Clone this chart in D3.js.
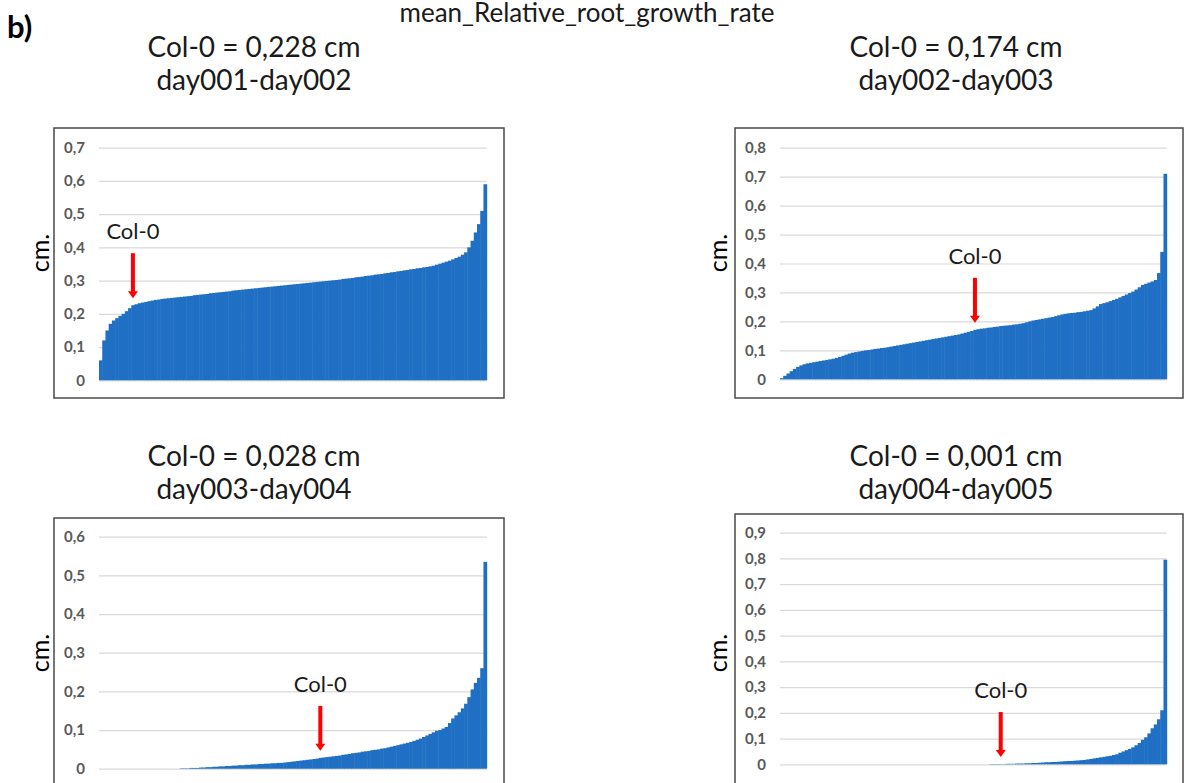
<!DOCTYPE html>
<html>
<head>
<meta charset="utf-8">
<script src="https://cdn.jsdelivr.net/npm/d3@7"></script>
<style>
  html, body { margin: 0; padding: 0; background: #ffffff; }
  svg { display: block; }
</style>
</head>
<body>
<svg id="chart" width="1187" height="783"></svg>
<script>
// ---------------- DATA ----------------
const mainTitle = "mean_Relative_root_growth_rate";
const panelLetter = "b)";
const col0Titles = ["Col-0 = 0,228 cm", "Col-0 = 0,174 cm", "Col-0 = 0,028 cm", "Col-0 = 0,001 cm"];
const periods = ["day001-day002", "day002-day003", "day003-day004", "day004-day005"];
const yAxisLabel = "cm.";
const markerLabel = "Col-0";
const yMaxValues = [0.7, 0.8, 0.6, 0.9];
const col0Index = [10, 60, 68, 68];

// sorted mean relative root growth per accession (cm), day001-day002
const growthDay1to2 = [
  0.06, 0.12, 0.15, 0.17, 0.18, 0.187, 0.194, 0.2, 0.208, 0.217,
  0.226, 0.229, 0.232, 0.234, 0.236, 0.238, 0.24, 0.242, 0.243, 0.245,
  0.246, 0.247, 0.248, 0.249, 0.25, 0.251, 0.252, 0.253, 0.254, 0.256,
  0.257, 0.258, 0.259, 0.26, 0.262, 0.263, 0.264, 0.265, 0.266, 0.267,
  0.268, 0.27, 0.271, 0.272, 0.273, 0.274, 0.275, 0.276, 0.277, 0.278,
  0.279, 0.28, 0.281, 0.282, 0.283, 0.284, 0.285, 0.286, 0.287, 0.288,
  0.289, 0.29, 0.291, 0.292, 0.293, 0.294, 0.295, 0.296, 0.297, 0.298,
  0.299, 0.3, 0.301, 0.302, 0.303, 0.305, 0.306, 0.307, 0.308, 0.31,
  0.311, 0.312, 0.314, 0.315, 0.316, 0.318, 0.319, 0.32, 0.322, 0.323,
  0.325, 0.326, 0.328, 0.329, 0.331, 0.332, 0.334, 0.335, 0.337, 0.338,
  0.34, 0.341, 0.343, 0.345, 0.348, 0.351, 0.354, 0.357, 0.36, 0.364,
  0.368, 0.372, 0.378, 0.385, 0.4, 0.42, 0.445, 0.47, 0.51, 0.59
];
// day002-day003
const growthDay2to3 = [
  0.004, 0.012, 0.02, 0.028, 0.036, 0.043, 0.048, 0.052, 0.055, 0.057,
  0.059, 0.061, 0.063, 0.065, 0.067, 0.069, 0.071, 0.074, 0.077, 0.081,
  0.085, 0.089, 0.092, 0.094, 0.096, 0.098, 0.1, 0.101, 0.103, 0.105,
  0.106, 0.108, 0.109, 0.111, 0.113, 0.115, 0.117, 0.119, 0.121, 0.123,
  0.125, 0.127, 0.129, 0.131, 0.133, 0.135, 0.137, 0.139, 0.141, 0.143,
  0.145, 0.147, 0.149, 0.151, 0.153, 0.155, 0.158, 0.161, 0.164, 0.167,
  0.171, 0.173, 0.175, 0.176, 0.178, 0.179, 0.181, 0.182, 0.184, 0.185,
  0.186, 0.187, 0.189, 0.19, 0.192, 0.194, 0.197, 0.2, 0.203, 0.205,
  0.207, 0.209, 0.211, 0.213, 0.215, 0.218, 0.221, 0.224, 0.226, 0.228,
  0.229, 0.23, 0.232, 0.233, 0.235, 0.237, 0.239, 0.245, 0.252, 0.26,
  0.263, 0.266, 0.27, 0.274, 0.278, 0.283, 0.288, 0.293, 0.298, 0.303,
  0.31, 0.318, 0.326, 0.33, 0.334, 0.338, 0.343, 0.367, 0.44, 0.71
];
// day003-day004
const growthDay3to4 = [
  0, 0, 0, 0, 0, 0, 0, 0, 0, 0,
  0, 0, 0, 0, 0, 0, 0, 0, 0, 0,
  0, 0, 0, 0, 0, 0.001, 0.001, 0.001, 0.002, 0.002,
  0.002, 0.003, 0.003, 0.004, 0.004, 0.005, 0.005, 0.006, 0.006, 0.007,
  0.007, 0.008, 0.008, 0.009, 0.009, 0.01, 0.01, 0.011, 0.011, 0.012,
  0.012, 0.013, 0.013, 0.014, 0.014, 0.015, 0.015, 0.016, 0.017, 0.018,
  0.019, 0.02, 0.021, 0.022, 0.023, 0.024, 0.025, 0.026, 0.028, 0.029,
  0.03, 0.031, 0.032, 0.033, 0.034, 0.036, 0.037, 0.038, 0.04, 0.041,
  0.042, 0.044, 0.045, 0.046, 0.048, 0.049, 0.05, 0.052, 0.053, 0.055,
  0.057, 0.059, 0.061, 0.063, 0.065, 0.067, 0.069, 0.072, 0.075, 0.078,
  0.082, 0.086, 0.09, 0.094, 0.098, 0.1, 0.104, 0.108, 0.118, 0.13,
  0.138, 0.146, 0.156, 0.168, 0.185, 0.205, 0.222, 0.235, 0.26, 0.535
];
// day004-day005
const growthDay4to5 = [
  0, 0, 0, 0, 0, 0, 0, 0, 0, 0,
  0, 0, 0, 0, 0, 0, 0, 0, 0, 0,
  0, 0, 0, 0, 0, 0, 0, 0, 0, 0,
  0, 0, 0, 0, 0, 0, 0, 0, 0, 0,
  0, 0, 0, 0, 0, 0, 0, 0, 0, 0,
  0, 0, 0, 0, 0, 0, 0, 0, 0, 0,
  0, 0, 0, 0, 0, 0.001, 0.001, 0.001, 0.001, 0.001,
  0.002, 0.002, 0.002, 0.003, 0.003, 0.003, 0.004, 0.004, 0.005, 0.005,
  0.006, 0.007, 0.008, 0.008, 0.009, 0.009, 0.01, 0.011, 0.012, 0.013,
  0.013, 0.014, 0.015, 0.016, 0.017, 0.019, 0.021, 0.023, 0.025, 0.027,
  0.029, 0.031, 0.033, 0.036, 0.039, 0.045, 0.05, 0.055, 0.06, 0.066,
  0.074, 0.083, 0.095, 0.105, 0.12, 0.14, 0.155, 0.175, 0.21, 0.795
];
const seriesList = [growthDay1to2, growthDay2to3, growthDay3to4, growthDay4to5];

// ---------------- LAYOUT ----------------
const layouts = [
  { box: [54, 128, 504, 398], plotX: [99, 486.7], plotY: [380.3, 147.7], titleX: 254, titleY: 57, labelX: 49, labelY: 253 },
  { box: [735, 128, 1183, 398], plotX: [780, 1166.7], plotY: [379.3, 147.7], titleX: 956, titleY: 57, labelX: 727, labelY: 253 },
  { box: [54, 518, 504, 800], plotX: [99, 486.7], plotY: [768.7, 536.7], titleX: 254, titleY: 466, labelX: 49, labelY: 653 },
  { box: [735, 514, 1183, 800], plotX: [780, 1166.7], plotY: [764.3, 532.7], titleX: 956, titleY: 466, labelX: 727, labelY: 653 }
];

const FONT = "Lato, Carlito, 'Open Sans', sans-serif";
const BAR_COLOR = "#1f70c4";
const locale = d3.formatLocale({ decimal: ",", thousands: ".", grouping: [3], currency: ["", ""] });
const fmt = locale.format(".1~f");

const svg = d3.select("#chart");

svg.append("text")
  .attr("x", 587).attr("y", 22)
  .attr("text-anchor", "middle")
  .style("font-family", FONT).style("font-size", "26px").style("fill", "#1a1a1a")
  .text(mainTitle);

svg.append("text")
  .attr("x", 7).attr("y", 38)
  .style("font-family", FONT).style("font-size", "31px").style("font-weight", "bold").style("fill", "#000")
  .text(panelLetter);

seriesList.forEach((values, p) => {
  const L = layouts[p];
  const g = svg.append("g");

  // titles
  g.append("text")
    .attr("x", L.titleX).attr("y", L.titleY)
    .attr("text-anchor", "middle")
    .style("font-family", FONT).style("font-size", "28px").style("fill", "#1a1a1a")
    .text(col0Titles[p]);
  g.append("text")
    .attr("x", L.titleX).attr("y", L.titleY + 33)
    .attr("text-anchor", "middle")
    .style("font-family", FONT).style("font-size", "28px").style("fill", "#1a1a1a")
    .text(periods[p]);

  // frame
  g.append("rect")
    .attr("x", L.box[0]).attr("y", L.box[1])
    .attr("width", L.box[2] - L.box[0]).attr("height", L.box[3] - L.box[1])
    .attr("fill", "#fff").attr("stroke", "#4a4a4a").attr("stroke-width", 1.5);

  const x = d3.scaleBand().domain(d3.range(values.length)).range(L.plotX).padding(0);
  const y = d3.scaleLinear().domain([0, yMaxValues[p]]).range(L.plotY);
  const tickVals = d3.range(0, Math.round(yMaxValues[p] * 10) + 1).map(d => d / 10);

  // axis + gridlines
  const axis = g.append("g")
    .attr("transform", `translate(${L.plotX[0]},0)`)
    .call(d3.axisLeft(y).tickValues(tickVals).tickSize(-(L.plotX[1] - L.plotX[0])).tickPadding(14).tickFormat(fmt));
  axis.select(".domain").remove();
  axis.selectAll(".tick line").attr("stroke", "#d9d9d9").attr("stroke-width", 1.2);
  axis.selectAll(".tick text")
    .style("font-family", FONT).style("font-size", "15px").style("font-weight", "bold").style("fill", "#595959");

  // bars
  g.append("g").selectAll("rect")
    .data(values)
    .join("rect")
    .attr("x", (d, i) => x(i))
    .attr("width", x.bandwidth() + 0.5)
    .attr("y", d => y(d))
    .attr("height", d => y(0) - y(d))
    .attr("fill", BAR_COLOR);

  // y label
  g.append("text")
    .attr("transform", `translate(${L.labelX},${L.labelY}) rotate(-90)`)
    .attr("text-anchor", "middle")
    .style("font-family", FONT).style("font-size", "25px").style("fill", "#000")
    .text(yAxisLabel);

  // Col-0 arrow
  const ci = col0Index[p];
  const ax = x(ci) + x.bandwidth() / 2;
  const tipY = y(values[ci]) - 7;
  const topY = tipY - 45;
  g.append("rect")
    .attr("x", ax - 2).attr("y", topY)
    .attr("width", 4).attr("height", 45 - 6)
    .attr("fill", "#ff0000");
  g.append("path")
    .attr("d", `M${ax - 5},${tipY - 7} L${ax + 5},${tipY - 7} L${ax},${tipY} Z`)
    .attr("fill", "#ff0000");
  g.append("text")
    .attr("x", ax).attr("y", topY - 14)
    .attr("text-anchor", "middle")
    .style("font-family", FONT).style("font-size", "22px").style("fill", "#1a1a1a")
    .text(markerLabel);
});
</script>
</body>
</html>
